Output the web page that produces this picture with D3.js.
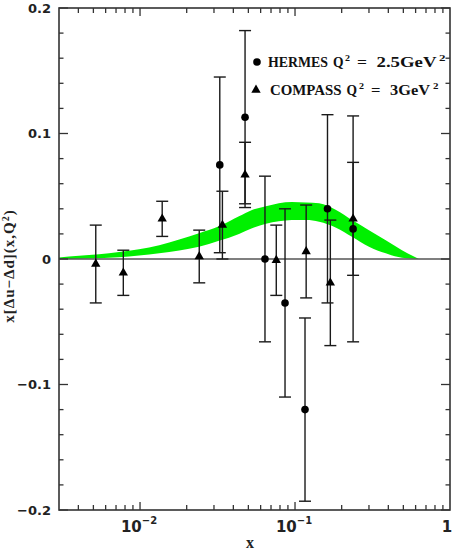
<!DOCTYPE html>
<html>
<head>
<meta charset="utf-8">
<script src="https://cdn.jsdelivr.net/npm/d3@7"></script>
<style>
  body { margin: 0; background: #fff; }
  svg { display: block; }
</style>
</head>
<body>
<div id="plot"></div>
<script>
// HERMES points (circles), Q^2 = 2.5 GeV^2
var hermesX = [0.0327, 0.0476, 0.064, 0.0862, 0.116, 0.162, 0.237];
var hermesY = [0.075, 0.113, 0.000, -0.035, -0.120, 0.040, 0.024];
var hermesErr = [0.070, 0.069, 0.066, 0.075, 0.073, 0.075, 0.090];

// COMPASS points (triangles), Q^2 = 3 GeV^2
var compassX = [0.00518, 0.0078, 0.0139, 0.0241, 0.034, 0.0476, 0.0757, 0.118, 0.169, 0.237];
var compassY = [-0.004, -0.011, 0.032, 0.002, 0.027, 0.067, -0.001, 0.006, -0.019, 0.032];
var compassErr = [0.031, 0.018, 0.014, 0.021, 0.027, 0.026, 0.028, 0.037, 0.050, 0.045];

// green uncertainty band
var bandX = [0.003, 0.00404, 0.00544, 0.00732, 0.00985, 0.0133, 0.0179, 0.024, 0.0323, 0.0435,
  0.0528, 0.0649, 0.0786, 0.0955, 0.118, 0.143, 0.184, 0.233, 0.30, 0.385, 0.49, 0.63];
var bandLo = [0.000, 0.0002, 0.0006, 0.0013, 0.0027, 0.0045, 0.0068, 0.0098, 0.0145, 0.020,
  0.0245, 0.028, 0.030, 0.031, 0.031, 0.0297, 0.025, 0.0178, 0.0098, 0.0045, 0.001, 0.000];
var bandHi = [0.0012, 0.0025, 0.0038, 0.0056, 0.0078, 0.011, 0.0155, 0.0205, 0.026, 0.034,
  0.039, 0.042, 0.0445, 0.0455, 0.045, 0.0444, 0.039, 0.031, 0.023, 0.015, 0.007, 0.000];

// axis ticks
var yTicks = [-0.2, -0.1, 0, 0.1, 0.2];
var yTickLabels = ["\u22120.2", "\u22120.1", "0", "0.1", "0.2"];
var xTicks = [0.01, 0.1, 1];
var xTickExp = ["\u22122", "\u22121", ""];

var W = 452, H = 553;
var pLeft = 59, pRight = 450, pTop = 8, pBottom = 510;

var svg = d3.select("#plot")
  .append("svg")
  .attr("width", W)
  .attr("height", H);

var x = d3.scaleLog().domain([0.003, 1]).range([pLeft, pRight]);
var y = d3.scaleLinear().domain([-0.2, 0.2]).range([pBottom, pTop]);

// band
var band = bandX.map(function (d, i) { return { x: d, lo: bandLo[i], hi: bandHi[i] }; });
svg.append("path")
  .datum(band)
  .attr("d", d3.area()
    .x(function (d) { return x(d.x); })
    .y0(function (d) { return y(d.lo); })
    .y1(function (d) { return y(d.hi); })
    .curve(d3.curveMonotoneX))
  .attr("fill", "#00f000");

// zero line
svg.append("line")
  .attr("x1", pLeft).attr("x2", pRight)
  .attr("y1", y(0)).attr("y2", y(0))
  .attr("stroke", "#555")
  .attr("stroke-width", 1.5);

// frame
svg.append("rect")
  .attr("x", pLeft).attr("y", pTop)
  .attr("width", pRight - pLeft).attr("height", pBottom - pTop)
  .attr("fill", "none")
  .attr("stroke", "#333")
  .attr("stroke-width", 1.6);

// ticks (inward on all four sides)
var xAll = x.ticks().filter(function (d) { return d > 0.003 && d < 1; });
var ticksG = svg.append("g").attr("stroke", "#333").attr("stroke-width", 1.3);
xAll.forEach(function (t) {
  var major = Math.abs(Math.log10(t) - Math.round(Math.log10(t))) < 1e-9;
  var len = major ? 8 : 5;
  ticksG.append("line").attr("x1", x(t)).attr("x2", x(t)).attr("y1", pBottom).attr("y2", pBottom - len);
  ticksG.append("line").attr("x1", x(t)).attr("x2", x(t)).attr("y1", pTop).attr("y2", pTop + len);
});
y.ticks(20).forEach(function (t) {
  var major = Math.abs(t * 10 - Math.round(t * 10)) < 1e-9;
  var len = major ? 9 : 4.5;
  ticksG.append("line").attr("x1", pLeft).attr("x2", pLeft + len).attr("y1", y(t)).attr("y2", y(t));
  ticksG.append("line").attr("x1", pRight).attr("x2", pRight - len).attr("y1", y(t)).attr("y2", y(t));
});

// y tick labels
svg.append("g")
  .selectAll("text")
  .data(yTicks)
  .enter()
  .append("text")
  .attr("x", 51)
  .attr("y", function (d) { return y(d); })
  .attr("dy", "0.36em")
  .attr("text-anchor", "end")
  .style("font-family", "DejaVu Sans")
  .style("font-weight", "bold")
  .style("font-size", "13px")
  .attr("fill", "#222")
  .text(function (d, i) { return yTickLabels[i]; });

// x tick labels (10^n)
xTicks.forEach(function (t, i) {
  var tx = svg.append("text")
    .attr("x", xTickExp[i] ? x(t) - 1 : x(t) - 3)
    .attr("y", 532)
    .attr("text-anchor", "middle")
    .style("font-family", "DejaVu Sans")
    .style("font-weight", "bold")
    .style("font-size", "15px")
    .attr("fill", "#222");
  if (xTickExp[i]) {
    tx.append("tspan").text("10");
    tx.append("tspan").attr("dy", -8).style("font-size", "10px").text(xTickExp[i]);
  } else {
    tx.text("1");
  }
});

// axis titles
svg.append("text")
  .attr("x", 250).attr("y", 548)
  .attr("text-anchor", "middle")
  .style("font-family", "Liberation Serif")
  .style("font-weight", "bold")
  .style("font-size", "16px")
  .attr("fill", "#222")
  .text("x");

var yt = svg.append("text")
  .attr("transform", "translate(14,266) rotate(-90)")
  .attr("text-anchor", "middle")
  .style("font-family", "Liberation Serif")
  .style("font-weight", "bold")
  .style("font-size", "15px")
  .style("letter-spacing", "1px")
  .attr("fill", "#222");
yt.append("tspan").text("x[\u0394u\u2212\u0394d](x,Q");
yt.append("tspan").attr("dy", -5).style("font-size", "10px").text("2");
yt.append("tspan").attr("dy", 5).text(")");

// error bars
function addErrorBars(xs, ys, es) {
  var pts = xs.map(function (d, i) { return { x: d, y: ys[i], e: es[i] }; });
  var g = svg.append("g").attr("stroke", "#1a1a1a").attr("stroke-width", 1.4);
  g.selectAll("vbar").data(pts).enter().append("line")
    .attr("x1", function (d) { return x(d.x); })
    .attr("x2", function (d) { return x(d.x); })
    .attr("y1", function (d) { return y(d.y - d.e); })
    .attr("y2", function (d) { return y(d.y + d.e); });
  [-1, 1].forEach(function (s) {
    g.selectAll("cap").data(pts).enter().append("line")
      .attr("x1", function (d) { return x(d.x) - 6; })
      .attr("x2", function (d) { return x(d.x) + 6; })
      .attr("y1", function (d) { return y(d.y + s * d.e); })
      .attr("y2", function (d) { return y(d.y + s * d.e); });
  });
}
addErrorBars(hermesX, hermesY, hermesErr);
addErrorBars(compassX, compassY, compassErr);

// markers
svg.append("g")
  .selectAll("circle")
  .data(hermesX)
  .enter()
  .append("circle")
  .attr("cx", function (d) { return x(d); })
  .attr("cy", function (d, i) { return y(hermesY[i]); })
  .attr("r", 3.8)
  .attr("fill", "#000");

var tri = d3.symbol().type(d3.symbolTriangle).size(38);
svg.append("g")
  .selectAll("path")
  .data(compassX)
  .enter()
  .append("path")
  .attr("d", tri)
  .attr("transform", function (d, i) { return "translate(" + x(d) + "," + y(compassY[i]) + ")"; })
  .attr("fill", "#000");

// legend
svg.append("circle").attr("cx", 257).attr("cy", 62).attr("r", 3.8).attr("fill", "#000");
svg.append("path").attr("d", tri).attr("transform", "translate(256,90)").attr("fill", "#000");

function seg(x0, w, yb, txt, size) {
  svg.append("text")
    .attr("x", x0).attr("y", yb)
    .attr("textLength", w)
    .attr("lengthAdjust", "spacingAndGlyphs")
    .style("font-family", "Liberation Serif")
    .style("font-weight", "bold")
    .style("font-size", size + "px")
    .attr("fill", "#111")
    .text(txt);
}
seg(268, 60, 67, "HERMES", 14.5);
seg(333, 10.5, 67, "Q", 14.5);
seg(345, 5, 61, "2", 9);
seg(357, 10, 67, "=", 14.5);
seg(376.5, 60, 67, "2.5GeV", 14.5);
seg(439, 6.5, 61, "2", 9);

seg(270, 71.5, 95, "COMPASS", 14.5);
seg(346.5, 10.5, 95, "Q", 14.5);
seg(359, 5, 89, "2", 9);
seg(371, 9.5, 95, "=", 14.5);
seg(390, 40, 95, "3GeV", 14.5);
seg(433, 5.5, 89, "2", 9);
</script>
</body>
</html>
